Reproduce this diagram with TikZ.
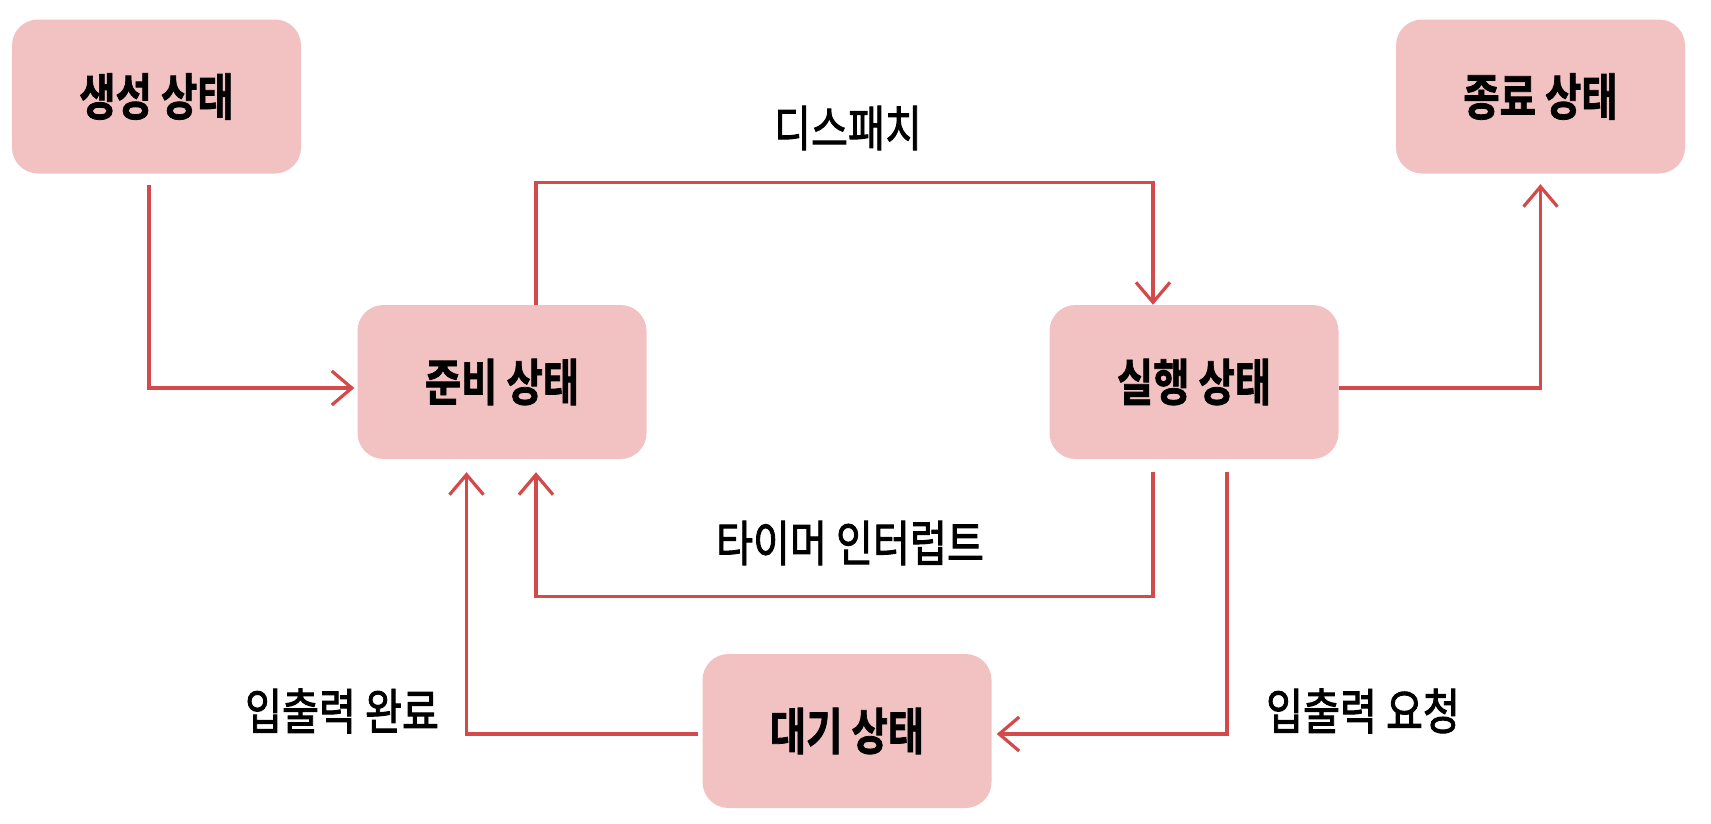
\documentclass[tikz,border=0pt]{standalone}
\usepackage{fontspec}
\usepackage{graphicx}
\newfontfamily\krb[FakeBold=1.6]{Noto Sans CJK KR Bold}
\newfontfamily\krm[FakeBold=2]{Noto Sans CJK KR}
\usetikzlibrary{arrows.meta}
\definecolor{boxfill}{RGB}{242,193,194}
\definecolor{linered}{RGB}{212,74,74}
\newcommand{\narrow}[1]{\scalebox{0.79}[1]{#1}}
\newcommand{\narrowl}[1]{\scalebox{0.82}[1]{#1}}
\tikzset{
  statebox/.style={fill=boxfill, draw=none, rounded corners=26pt,
    minimum width=289pt, minimum height=154pt, inner sep=0pt,
    font=\krb\fontsize{50}{56}\selectfont},
  lbl/.style={inner sep=0pt, font=\krm\fontsize{49}{56}\selectfont},
  arr/.style={draw=linered, line width=3.2pt,
    -{Straight Barb[length=20pt,width=34pt,line width=3.2pt]}}
}
\begin{document}
\begin{tikzpicture}[x=1pt,y=-1pt]
\useasboundingbox[fill=white] (0,0) rectangle (1711,823);
\node[statebox] (gen) at (156.5,96.5) {\narrow{생성 상태}};
\node[statebox] (fin) at (1540.5,96.5) {\narrow{종료 상태}};
\node[statebox] (ready) at (502,382) {\narrow{준비 상태}};
\node[statebox] (run) at (1194,382) {\narrow{실행 상태}};
\node[statebox] (wait) at (847,731) {\narrow{대기 상태}};

\node[lbl] (ldisp) at (848,128) {\narrowl{디스패치}};
\node[lbl] (ltimer) at (850,543) {\narrowl{타이머 인터럽트}};
\node[lbl] (ldone) at (342,711) {\narrowl{입출력 완료}};
\node[lbl] (lreq) at (1363,711) {\narrowl{입출력 요청}};

\draw[arr] ([xshift=-7.5pt,yshift=-11pt]gen.south) |- ([xshift=-3pt,yshift=-6pt]ready.west);
\draw[arr] ([xshift=34pt]ready.north) -- ++(0,-122) -| ([xshift=-41pt]run.north);
\draw[arr] ([yshift=-6pt]run.east) -| ([yshift=-10.5pt]fin.south);
\draw[arr] ([xshift=-41pt,yshift=-13pt]run.south) -- ++(0,124) -| ([xshift=34pt,yshift=-13pt]ready.south);
\draw[arr] ([xshift=33pt,yshift=-13pt]run.south) |- ([xshift=5pt,yshift=-3pt]wait.east);
\draw[arr] ([xshift=-4pt,yshift=-3pt]wait.west) -| ([xshift=-35.5pt,yshift=-13pt]ready.south);
\end{tikzpicture}
\end{document}
